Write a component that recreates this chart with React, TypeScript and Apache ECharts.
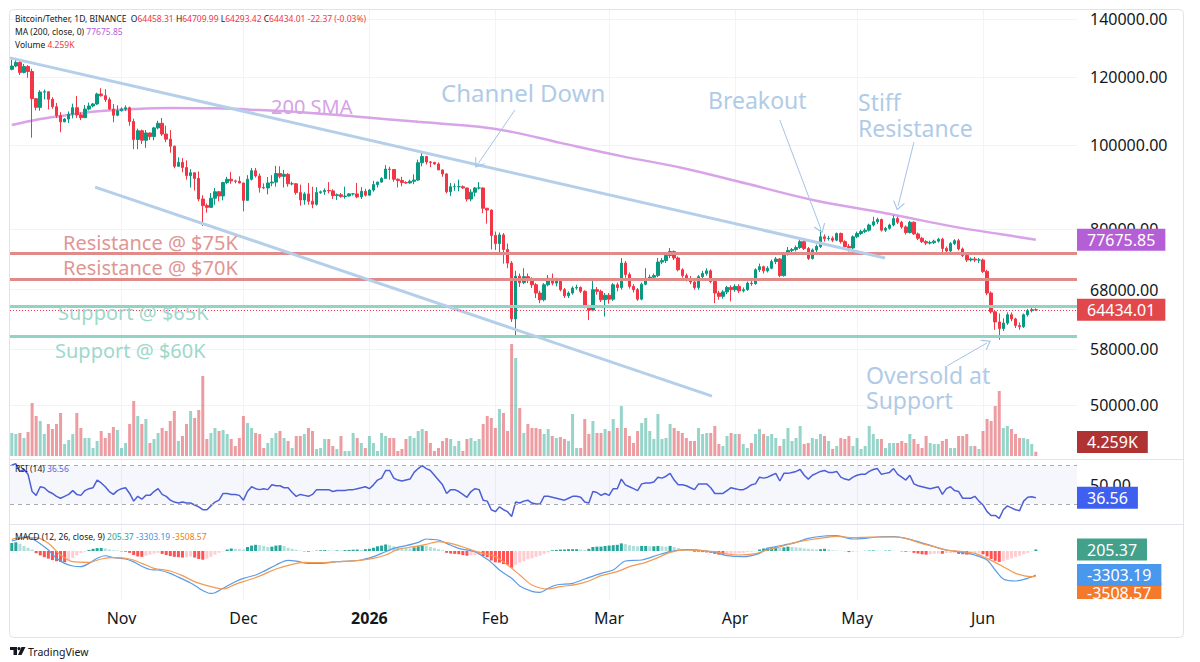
import React, { useEffect, useRef } from "react";
import * as echarts from "echarts";

const DAY = 86400000;
const START = Date.UTC(2025, 9, 5); // first candle: 5 Oct 2025
const NOV1 = Date.UTC(2025, 10, 1);
const X_MIN = NOV1 - 27.44 * DAY;
const X_MAX = X_MIN + 262.57 * DAY;

// Daily candles, thousands of USDT: [open, high, low, close]
const ohlc: number[][] = [
  [122.4,125.7,122.1,123.5],[123.5,126.2,123.1,124.7],[124.7,125.1,120.6,121.4],[121.4,124.2,121.1,123.3],[123.3,123.8,119.7,121.7],
  [121.7,122.6,102.0,113.2],[113.2,113.4,109.7,110.6],[110.6,115.8,109.6,115.2],[115.2,116.0,113.0,115.3],[115.3,115.4,110.0,113.0],
  [113.0,113.6,110.2,110.8],[110.8,111.9,107.5,108.2],[108.2,109.2,103.5,106.4],[106.4,107.5,106.3,107.2],[107.2,109.4,106.1,108.6],
  [108.6,111.7,107.4,110.5],[110.5,114.0,107.5,108.4],[108.4,109.1,106.9,107.6],[107.6,111.3,107.5,110.1],[110.1,112.0,109.7,111.0],
  [111.0,111.9,110.6,111.6],[111.6,115.0,111.3,114.6],[114.6,116.4,113.8,114.1],[114.1,116.1,112.2,112.9],[112.9,113.6,109.9,110.1],
  [110.1,111.6,106.3,108.3],[108.3,111.2,108.0,109.6],
  // Nov
  [109.6,110.6,109.4,110.1],[110.1,111.2,109.5,110.5],[110.5,110.8,105.3,106.5],[106.5,107.3,98.9,101.5],[101.5,104.5,98.9,103.9],
  [103.9,104.2,100.3,101.3],[101.3,104.1,99.3,103.3],[103.3,103.4,101.4,102.3],[102.3,105.0,101.3,104.7],[104.7,106.7,104.3,106.0],
  [106.0,107.5,102.5,103.0],[103.0,105.3,100.8,101.6],[101.6,104.1,98.0,99.7],[99.7,99.9,94.0,94.5],[94.5,96.8,94.5,95.5],
  [95.5,96.6,93.0,94.2],[94.2,96.0,91.2,92.2],[92.2,93.8,89.3,92.9],[92.9,92.9,88.6,91.5],[91.5,93.2,86.1,86.6],
  [86.6,87.5,80.6,85.1],[85.1,85.6,83.5,84.7],[84.7,88.0,84.6,86.8],[86.8,89.2,85.3,88.3],[88.3,88.5,86.1,87.3],
  [87.3,90.7,86.3,90.5],[90.5,91.9,90.1,91.3],[91.3,93.1,90.2,90.9],[90.9,91.2,90.3,90.8],[90.8,92.0,90.3,90.4],
  // Dec
  [90.4,90.4,83.8,86.3],[86.3,92.3,86.2,91.3],[91.3,94.1,91.0,93.4],[93.4,94.1,91.7,92.1],[92.1,92.7,88.1,89.3],
  [89.3,90.3,88.9,89.2],[89.2,91.8,87.7,90.4],[90.4,92.3,89.6,90.6],[90.6,94.6,89.5,92.7],[92.7,94.5,91.5,92.0],
  [92.0,93.6,89.3,92.5],[92.5,92.8,89.5,90.2],[90.2,90.7,89.8,90.2],[90.2,90.4,87.6,88.1],[88.1,90.0,85.1,86.4],
  [86.4,88.2,85.3,87.8],[87.8,90.4,85.3,86.1],[86.1,89.5,84.5,85.4],[85.4,89.4,85.1,88.1],[88.1,88.6,87.8,88.3],
  [88.3,89.1,87.6,88.6],[88.6,90.6,87.9,88.5],[88.5,88.9,86.6,87.4],[87.4,87.9,86.4,87.6],[87.6,88.0,86.9,87.2],
  [87.2,89.5,86.7,87.3],[87.3,88.0,87.2,87.8],[87.8,88.0,87.4,87.8],[87.8,90.4,86.8,87.1],[87.1,89.4,86.6,88.4],
  [88.4,89.0,87.2,87.5],
  // Jan
  [87.5,88.9,87.4,88.7],[88.7,90.9,88.3,90.0],[90.0,90.7,89.3,90.6],[90.6,91.8,90.5,91.5],[91.5,94.8,91.4,93.8],
  [93.8,94.4,91.2,93.7],[93.7,93.7,90.7,91.3],[91.3,91.5,89.3,91.0],[91.0,91.9,89.6,90.5],[90.5,90.8,90.2,90.4],
  [90.4,91.2,90.2,90.8],[90.8,92.5,90.1,91.1],[91.1,96.2,90.9,95.4],[95.4,97.9,94.5,97.0],[97.0,97.2,95.0,95.6],
  [95.6,95.8,94.3,95.5],[95.5,95.6,94.9,95.1],[95.1,95.5,93.6,93.6],[93.6,93.7,91.9,92.6],[92.6,92.8,87.9,88.3],
  [88.3,90.4,87.3,89.5],[89.5,90.3,88.5,89.5],[89.5,91.2,88.4,89.5],[89.5,89.8,89.0,89.2],[89.2,89.2,86.0,86.6],
  [86.6,88.9,86.1,88.2],[88.2,89.4,87.2,89.2],[89.2,90.6,88.8,89.2],[89.2,89.3,83.4,84.5],[84.5,84.6,81.1,84.1],
  [84.1,84.2,75.7,78.6],
  // Feb
  [78.6,79.4,75.6,76.9],[76.9,79.2,74.6,78.7],[78.7,79.1,72.9,75.7],[75.7,76.9,72.0,73.0],[73.0,73.4,62.4,62.9],
  [62.9,71.5,60.0,70.5],[70.5,71.0,68.5,69.3],[69.3,72.0,69.0,70.4],[70.4,71.0,69.2,69.9],[69.9,70.3,68.3,68.9],
  [68.9,69.2,66.5,67.4],[67.4,67.8,65.6,66.2],[66.2,69.2,65.9,68.9],[68.9,70.7,68.6,70.1],[70.1,71.0,68.8,69.2],
  [69.2,70.2,68.6,69.6],[69.6,69.9,67.7,68.0],[68.0,68.3,66.5,66.9],[66.9,67.7,66.5,67.4],[67.4,68.6,67.1,68.3],
  [68.3,68.9,68.0,68.4],[68.4,68.6,67.4,67.7],[67.7,67.9,64.7,65.0],[65.0,65.3,62.7,64.4],[64.4,70.1,64.2,68.0],
  [68.0,68.5,67.1,67.7],[67.7,68.0,65.8,66.2],[66.2,67.4,63.3,67.0],
  // Mar
  [67.0,67.4,65.5,66.3],[66.3,69.2,66.0,68.9],[68.9,69.3,67.7,68.4],[68.4,74.0,68.0,73.0],[73.0,73.4,70.2,70.8],
  [70.8,71.2,68.2,68.6],[68.6,69.0,67.5,68.0],[68.0,68.3,66.0,66.3],[66.3,69.3,66.1,69.0],[69.0,72.0,68.8,70.1],
  [70.1,70.8,69.6,70.3],[70.3,71.0,69.9,70.6],[70.6,74.0,70.3,73.2],[73.2,74.0,72.8,73.5],[73.5,75.0,73.0,74.5],
  [74.5,76.0,74.0,75.3],[75.3,75.5,73.6,74.0],[74.0,74.3,71.4,71.7],[71.7,72.0,70.2,70.6],[70.6,71.0,69.5,70.0],
  [70.0,70.5,69.0,69.4],[69.4,69.8,68.0,68.4],[68.4,70.7,68.0,70.4],[70.4,71.5,70.0,71.0],[71.0,72.0,70.6,71.5],
  [71.5,71.8,69.2,69.5],[69.5,69.8,65.6,67.4],[67.4,67.8,66.2,66.8],[66.8,67.9,66.4,67.6],[67.6,68.7,67.2,68.4],
  [68.4,68.8,65.9,68.0],
  // Apr
  [68.0,69.0,67.6,68.6],[68.6,69.0,67.4,67.8],[67.8,68.4,67.5,68.0],[68.0,69.5,67.8,69.2],[69.2,69.6,68.7,69.1],
  [69.1,72.0,68.9,71.7],[71.7,72.9,71.3,72.3],[72.3,72.5,71.0,71.5],[71.5,72.4,71.2,72.0],[72.0,73.7,71.8,73.3],
  [73.3,74.2,72.8,73.8],[73.8,74.0,70.3,70.6],[70.6,75.1,70.4,74.8],[74.8,76.2,74.5,75.5],[75.5,76.0,75.0,75.7],
  [75.7,76.5,75.3,76.1],[76.1,78.2,75.8,77.3],[77.3,77.6,75.6,75.9],[75.9,76.2,73.6,73.9],[73.9,75.9,73.7,75.6],
  [75.6,76.7,75.2,76.3],[76.3,79.8,76.0,78.3],[78.3,78.8,77.3,77.9],[77.9,78.5,77.5,78.0],[78.0,78.4,77.2,77.6],
  [77.6,79.2,77.4,79.0],[79.0,79.2,76.9,77.3],[77.3,77.6,75.7,76.3],[76.3,76.8,75.3,76.0],[76.0,78.6,75.8,78.3],
  // May
  [78.3,79.4,78.0,79.0],[79.0,79.8,78.7,79.4],[79.4,80.1,79.1,79.7],[79.7,81.1,79.4,80.8],[80.8,82.6,80.5,81.5],
  [81.5,82.4,81.0,82.0],[82.0,82.2,79.4,79.7],[79.7,80.4,79.3,80.1],[80.1,81.1,79.8,80.8],[80.8,82.9,80.5,82.2],
  [82.2,82.6,81.0,81.4],[81.4,81.7,80.0,80.4],[80.4,80.7,78.8,79.2],[79.2,81.7,79.0,81.4],[81.4,81.6,78.7,78.9],
  [78.9,79.2,77.6,78.0],[78.0,78.3,77.0,77.3],[77.3,77.6,76.6,77.0],[77.0,77.5,76.7,77.1],[77.1,77.7,76.8,77.4],
  [77.4,78.1,77.1,77.8],[77.8,78.1,74.6,75.9],[75.9,76.3,75.0,75.4],[75.4,77.2,75.2,76.9],[76.9,77.8,76.6,77.5],
  [77.5,77.9,75.5,75.8],[75.8,76.1,74.2,74.5],[74.5,74.8,73.2,73.6],[73.6,74.1,73.3,73.8],[73.8,74.2,73.2,73.6],
  [73.6,74.0,73.0,73.6],
  // Jun
  [73.6,73.9,71.1,71.4],[71.4,71.7,67.0,67.4],[67.4,67.7,63.8,64.1],[64.1,64.4,61.1,62.4],[62.4,63.8,59.5,61.3],
  [61.3,63.0,60.9,62.2],[62.2,64.0,61.9,63.6],[63.6,64.0,62.5,62.9],[62.9,63.1,61.4,61.8],[61.8,62.3,61.1,61.6],
  [61.6,63.8,61.4,63.6],[63.6,64.6,63.3,64.3],[64.3,64.9,64.0,64.45638],[64.45831,64.70999,64.29342,64.43401],
];

// Daily volume, thousands of BTC
const volumeK: number[] = [
  23,22,23,18,24,53,40,35,22,32, 27,32,43,12,16,22,43,28,18,18, 8,15,25,18,23,29,26,8,13,32,
  55,40,32,37,13,17,23,28,25,35, 45,15,20,32,45,38,46,80,17,23, 28,25,26,22,17,10,18,40,33,28,
  23,22,8,13,18,23,25,18,15,8, 20,20,22,28,25,7,8,17,17,10, 7,20,5,5,23,18,13,8,20,13,
  5,23,20,18,18,5,7,17,20,18, 25,27,25,13,5,8,15,18,17,10, 15,5,17,18,15,17,32,40,38,28,
  47,43,25,112,98,48,23,32,28,28, 27,22,27,20,18,19,17,15,42,8, 8,37,22,35,23,23,27,25,37,28,
  50,28,20,13,25,33,38,25,17,42, 17,18,32,28,25,23,18,15,15,28, 22,23,23,30,12,10,20,23,22,22,
  12,8,13,22,27,22,20,22,18,10, 17,28,15,18,30,12,13,18,17,22, 20,15,7,10,18,17,20,10,18,7,
  10,30,22,17,17,8,13,13,13,15, 13,22,17,12,8,20,13,12,12,15, 17,8,8,20,20,22,10,10,7,25,
  37,35,50,65,28,30,27,22,18,18, 17,12,4.259,
];

// 200-day SMA: [candle index, thousands USDT]
const ma200: number[][] = [
  [0,105.5],[7,107.2],[14,108.4],[22,109.5],[30,110.1],[39,110.4],[50,110.3],[61,109.8],[72,109.1],[86,107.8],
  [100,106.4],[115,105.0],[123,103.6],[135,100.6],[150,97.1],[165,94.1],[181,90.2],[198,86.2],[215,83.4],
  [232,80.4],[243,78.9],[252,77.67585],
];

// RSI(14): [candle index, value]
const rsi14: number[][] = [
  [0,70.7],[1,72],[2,64],[3,66],[4,61],[5,43],[6,39],[7,48],[8,47],[9,43],[10,41],[11,38],[12,36],[13,38],[14,40],
  [15,44],[16,40],[17,39],[18,44],[19,46],[20,47],[21,55],[22,52],[23,48],[24,43],[25,40],[26,44],[27,46],[28,47],
  [29,41],[30,33],[31,38],[32,35],[33,39],[34,39],[35,43],[36,46],[37,40],[38,38],[39,34],[40,32],[41,31],[42,32],
  [43,31],[44,31],[45,29],[46,27],[47,24],[48,24],[49,28],[50,32],[51,34],[52,41],[53,41],[54,40],[55,40],[56,39],
  [57,34],[58,43],[59,48],[60,46],[61,45],[62,46],[63,45],[64,50],[65,49],[66,49],[67,47],[68,47],[69,42],[70,38],
  [71,40],[72,39],[73,38],[74,40],[75,45],[76,45],[77,45],[78,45],[79,43],[80,44],[81,44],[82,44],[83,45],[84,45],
  [85,46],[86,47],[87,48],[88,46],[89,50],[90,55],[91,57],[92,65],[93,65],[94,57],[95,55],[96,54],[97,55],[98,56],
  [99,63],[100,67],[101,70],[102,67],[103,65],[104,60],[105,55],[106,50],[107,41],[108,45],[109,45],[110,43],
  [111,40],[112,37],[113,43],[114,46],[115,45],[116,34],[117,33],[118,24],[119,22],[120,27],[121,24],[122,22],
  [123,17],[124,32],[125,31],[126,33],[127,34],[128,31],[129,30],[130,30],[131,38],[132,38],[133,37],[134,36],
  [135,35],[136,34],[137,36],[138,38],[139,38],[140,37],[141,32],[142,31],[143,43],[144,42],[145,39],[146,41],
  [147,39],[148,46],[149,46],[150,56],[151,50],[152,48],[153,46],[154,44],[155,51],[156,52],[157,52],[158,53],
  [159,58],[160,57],[161,59],[162,62],[163,55],[164,50],[165,50],[166,49],[167,47],[168,45],[169,51],[170,51],
  [171,51],[172,47],[173,41],[174,41],[175,41],[176,44],[177,47],[178,46],[179,45],[180,45],[181,47],[182,50],
  [183,51],[184,58],[185,57],[186,58],[187,60],[188,62],[189,54],[190,62],[191,62],[192,63],[193,64],[194,66],
  [195,60],[196,56],[197,60],[198,62],[199,64],[200,65],[201,63],[202,63],[203,64],[204,58],[205,56],[206,55],
  [207,58],[208,60],[209,61],[210,61],[211,64],[212,66],[213,67],[214,61],[215,62],[216,63],[217,67],[218,61],
  [219,58],[220,55],[221,60],[222,51],[223,49],[224,48],[225,47],[226,46],[227,47],[228,48],[229,40],[230,46],
  [231,48],[232,44],[233,43],[234,36],[235,36],[236,36],[237,38],[238,33],[239,29],[240,22],[241,18],[242,18],
  [243,15],[244,24],[245,28],[246,26],[247,24],[248,23],[249,33],[250,37],[251,37.5],[252,36.56],
];

// MACD(12,26,9) line and signal: [candle index, value]
const macdLine: number[][] = [
  [0,1400],[1,1514],[3,1900],[4,1972],[5,1700],[6,1376],[8,600],[9,138],[11,-1000],[13,-1700],[15,-2064],[17,-2157],
  [19,-1700],[21,-1000],[23,-650],[25,-900],[28,-1100],[30,-1500],[32,-2100],[34,-2550],[36,-2615],[39,-3073],
  [41,-3600],[44,-4400],[46,-5100],[48,-5700],[49,-5826],[50,-5750],[52,-5137],[55,-4220],[57,-3761],[60,-3303],
  [62,-2800],[65,-1926],[68,-1284],[70,-1400],[73,-1697],[76,-1697],[80,-1468],[83,-1376],[86,-1239],[89,-780],
  [91,-321],[94,367],[97,734],[100,1193],[102,1651],[103,1600],[105,1514],[107,1055],[110,367],[114,-92],[116,-780],
  [118,-1560],[120,-2615],[123,-3761],[125,-4800],[128,-5550],[130,-5688],[132,-5137],[134,-4679],[138,-4450],
  [141,-3853],[145,-3073],[148,-2615],[151,-1376],[155,-1239],[159,-550],[162,-92],[166,183],[169,138],[173,-183],
  [176,-642],[180,-780],[184,-321],[186,367],[190,826],[193,1193],[196,1743],[200,2064],[203,2110],[207,1651],
  [210,1743],[213,1927],[217,1972],[220,1743],[223,1284],[227,597],[230,138],[234,-183],[237,-550],[240,-1239],
  [242,-2615],[244,-3853],[247,-4128],[250,-3761],[252,-3303.19],
];
const signalLine: number[][] = [
  [0,1600],[1,1743],[6,1835],[9,1055],[12,-550],[15,-1468],[19,-1560],[22,-1101],[25,-917],[29,-1101],[32,-1697],
  [35,-2385],[39,-2752],[42,-3394],[45,-4220],[49,-4908],[52,-5229],[55,-4587],[59,-3853],[62,-3211],[65,-2477],
  [69,-1835],[72,-1560],[76,-1605],[80,-1468],[85,-1330],[89,-1009],[92,-550],[95,229],[99,597],[102,918],
  [105,1284],[109,918],[112,367],[115,-183],[119,-780],[122,-1926],[125,-3300],[128,-4679],[132,-5229],[135,-4908],
  [139,-4587],[142,-4128],[145,-3394],[149,-2844],[152,-2157],[156,-1560],[159,-917],[162,-183],[166,138],[169,46],
  [173,-92],[176,-413],[179,-550],[183,-367],[186,138],[190,734],[193,1193],[196,1514],[200,1835],[203,2018],
  [207,1835],[210,1881],[213,1927],[217,1927],[220,1743],[223,1193],[227,597],[230,138],[234,-92],[237,-321],
  [240,-1009],[244,-2157],[247,-3073],[251,-3532],[252,-3508.57],
];
// MACD histogram, one value per candle
const macdHist: number[] = [
  1100,1200,1000,700,450,200,-300,-600,-850,-1050,
  -1250,-1400,-1500,-1550,-1300,-950,-600,-300,-100,150,
  300,400,420,350,200,100,80,-50,-100,-250,
  -550,-750,-800,-650,-500,-350,-250,-400,-550,-700,
  -800,-850,-900,-850,-750,-900,-1100,-1200,-1050,-800,
  -500,-250,-50,200,350,300,250,200,550,750,
  850,800,700,550,600,750,800,700,450,300,
  150,50,-50,-100,-50,50,100,120,100,60,
  80,60,120,150,180,200,150,250,300,450,
  650,750,900,800,650,550,450,400,350,500,
  650,750,700,550,400,250,100,-250,-350,-400,
  -450,-550,-650,-600,-550,-500,-700,-850,-1300,-1550,
  -1600,-1800,-1900,-2300,-1900,-1600,-1400,-1150,-1000,-800,
  -650,-400,-200,100,150,200,200,250,250,250,
  200,150,300,550,600,600,700,750,800,850,
  1050,950,800,700,650,700,700,650,650,700,
  650,600,700,550,400,250,150,50,-100,-100,
  -150,-200,-250,-400,-500,-500,-450,-400,-350,-300,
  -250,-150,-100,-50,200,350,450,500,550,450,
  500,600,550,500,450,350,300,250,200,250,
  300,200,100,60,30,-20,-150,-120,-50,-20,
  30,60,80,60,20,50,70,40,0,-50,
  -100,-80,-250,-350,-450,-500,-450,-400,-350,-380,
  -300,-280,-250,-400,-450,-500,-400,-330,-300,-450,
  -750,-1100,-1350,-1500,-1400,-1200,-1000,-800,-650,-450,
  -250,-50,205.37,
];

const priceTicks = [50000, 58000, 68000, 80000, 100000, 120000, 140000];
const monthTicks = [
  Date.UTC(2025, 10, 1), Date.UTC(2025, 11, 1), Date.UTC(2026, 0, 1), Date.UTC(2026, 1, 1),
  Date.UTC(2026, 2, 1), Date.UTC(2026, 3, 1), Date.UTC(2026, 4, 1), Date.UTC(2026, 5, 1),
];
const MONTHS = ["Jan","Feb","Mar","Apr","May","Jun","Jul","Aug","Sep","Oct","Nov","Dec"];
const resistanceLevels = [75000, 70000];
const supportLevels = [65000, 60000];
// Channel: [days after 1 Nov 2025, price]
const channelUpper = [[-27.44, 126200], [187.9, 74000]];
const channelLower = [[-6.5, 89400], [145.3, 51200]];
// Arrows: tail then head, [days after 1 Nov 2025, price]
const arrows = [
  [[96.8, 109800], [87.7, 95100]],
  [[162.0, 106900], [172.1, 79960]],
  [[195.0, 100800], [191.1, 85000]],
  [[203.2, 55500], [213.0, 59000]],
];

const FONT = "'Noto Sans', 'DejaVu Sans', sans-serif";
const UP = "#089981";
const DOWN = "#f23645";
const CHEVRON = "path://M0,15 L10,0 L20,15 L18.5,16 L10,3.5 L1.5,16 Z";

const t = (i: number) => START + i * DAY;
const td = (d: number) => NOV1 + d * DAY;

export default function App() {
  const ref = useRef<HTMLDivElement>(null);
  useEffect(() => {
    if (!ref.current) return;
    const chart = echarts.init(ref.current, null, { renderer: "svg", width: 1200, height: 662 });

    const last = ohlc[ohlc.length - 1];
    const prev = ohlc[ohlc.length - 2];
    const lastClose = last[3] * 1000;
    const chg = (last[3] - prev[3]) * 1000;
    const chgPct = (chg / (prev[3] * 1000)) * 100;
    const lastMA = ma200[ma200.length - 1][1] * 1000;
    const lastVol = volumeK[volumeK.length - 1];
    const lastRsi = rsi14[rsi14.length - 1][1];
    const lastMacd = macdLine[macdLine.length - 1][1];
    const lastSignal = signalLine[signalLine.length - 1][1];
    const lastHist = macdHist[macdHist.length - 1];

    const candleData = ohlc.map((r, i) => [t(i), r[0] * 1000, r[3] * 1000, r[2] * 1000, r[1] * 1000]);
    const volData = volumeK.map((v, i) => ({
      value: [t(i), v],
      itemStyle: { color: ohlc[i][3] >= ohlc[i][0] ? "rgba(8,153,129,0.42)" : "rgba(220,60,70,0.5)" },
    }));
    const histData = macdHist.map((v, i) => {
      const p = i > 0 ? macdHist[i - 1] : v;
      const c = v >= 0 ? (v >= p ? "#26a69a" : "#b2dfdb") : (v <= p ? "#ff5252" : "#ffcdd2");
      return { value: [t(i), v], itemStyle: { color: c } };
    });

    const tag = (bg: string, text: string) => ({
      show: true,
      position: "end",
      distance: 0,
      formatter: text,
      backgroundColor: bg,
      color: "#ffffff",
      fontSize: 16,
      fontFamily: FONT,
      lineHeight: 16,
      padding: [3, 10, 3, 10],
    });
    const hidden = { color: "rgba(0,0,0,0)", width: 1, type: "solid" };

    const xAxis = (gridIndex: number, labels: boolean) => ({
      type: "value",
      gridIndex,
      min: X_MIN,
      max: X_MAX,
      axisLine: { show: false },
      axisTick: { show: false, customValues: monthTicks },
      splitLine: { show: true, lineStyle: { color: "#f0f3fa", width: 1 } },
      axisPointer: { show: false },
      axisLabel: labels
        ? {
            customValues: monthTicks,
            color: "#131722",
            fontSize: 16,
            fontFamily: FONT,
            margin: 10,
            formatter: (v: number) => {
              const d = new Date(v);
              return d.getUTCMonth() === 0 ? "{y|" + d.getUTCFullYear() + "}" : MONTHS[d.getUTCMonth()];
            },
            rich: { y: { fontWeight: "bold", fontSize: 16, fontFamily: FONT, color: "#131722" } },
          }
        : { show: false },
    });

    const txt = (text: string, x: number, y: number, fill: string, size: number) => ({
      type: "text",
      z: 50,
      silent: true,
      style: { text, x, y, fill, fontSize: size, lineHeight: size, fontFamily: FONT, verticalAlign: "middle", align: "left" },
    });

    const annBlue = "#b0cbe7";
    const graphic: any[] = [
      { type: "rect", z: 0, silent: true, shape: { x: 9.5, y: 9.5, width: 1174, height: 628, r: 4 }, style: { fill: "none", stroke: "#e0e3eb", lineWidth: 1 } },
      { type: "line", z: 1, silent: true, shape: { x1: 9.5, y1: 459.5, x2: 1183.5, y2: 459.5 }, style: { stroke: "#e0e3eb", lineWidth: 1 } },
      { type: "line", z: 1, silent: true, shape: { x1: 9.5, y1: 524.5, x2: 1183.5, y2: 524.5 }, style: { stroke: "#e0e3eb", lineWidth: 1 } },
      { type: "rect", z: 100, silent: true, shape: { x: 1076, y: 599, width: 107, height: 13 }, style: { fill: "#ffffff" } },
      txt("Channel Down", 441, 92, annBlue, 24),
      txt("Breakout", 708, 100, annBlue, 23),
      txt("Stiff", 858, 102, annBlue, 23),
      txt("Resistance", 858, 128, annBlue, 23),
      txt("Oversold at", 866, 375, annBlue, 23),
      txt("Support", 866, 400, annBlue, 23),
      txt("200 SMA", 271, 106, "#d6a2e6", 20),
      txt("Resistance @ $75K", 63, 242, "#df9694", 20),
      txt("Resistance @ $70K", 63, 267, "#df9694", 20),
      txt("Support @ $65K", 58, 312, "#9fd8cb", 20),
      txt("Support @ $60K", 55, 350, "#9fd8cb", 20),
      {
        type: "text", z: 60, silent: true,
        style: {
          x: 15, y: 18, verticalAlign: "middle", fontSize: 8.5, fontFamily: FONT, fill: "#131722",
          text:
            "{n|Bitcoin/Tether, 1D, BINANCE}  {l|O}{v|" + (last[0] * 1000).toFixed(2) + "} {l|H}{v|" +
            (last[1] * 1000).toFixed(2) + "} {l|L}{v|" + (last[2] * 1000).toFixed(2) + "} {l|C}{v|" +
            lastClose.toFixed(2) + "} {v|" + chg.toFixed(2) + " (" + chgPct.toFixed(2) + "%)}",
          rich: {
            n: { fontSize: 8.5, fontFamily: FONT, fill: "#131722" },
            l: { fontSize: 8.5, fontFamily: FONT, fill: "#131722" },
            v: { fontSize: 8.5, fontFamily: FONT, fill: DOWN },
          },
        },
      },
      {
        type: "text", z: 60, silent: true,
        style: {
          x: 15, y: 31, verticalAlign: "middle", fontSize: 8.5, fontFamily: FONT,
          text: "{n|MA (200, close, 0)} {v|" + lastMA.toFixed(2) + "}",
          rich: { n: { fontSize: 8.5, fontFamily: FONT, fill: "#131722" }, v: { fontSize: 8.5, fontFamily: FONT, fill: "#b35fd6" } },
        },
      },
      {
        type: "text", z: 60, silent: true,
        style: {
          x: 15, y: 44, verticalAlign: "middle", fontSize: 8.5, fontFamily: FONT,
          text: "{n|Volume} {v|" + lastVol.toFixed(3) + "K}",
          rich: { n: { fontSize: 8.5, fontFamily: FONT, fill: "#131722" }, v: { fontSize: 8.5, fontFamily: FONT, fill: DOWN } },
        },
      },
      {
        type: "text", z: 60, silent: true,
        style: {
          x: 15, y: 468, verticalAlign: "middle", fontSize: 8.5, fontFamily: FONT,
          text: "{n|RSI (14)} {v|" + lastRsi.toFixed(2) + "}",
          rich: { n: { fontSize: 8.5, fontFamily: FONT, fill: "#131722" }, v: { fontSize: 8.5, fontFamily: FONT, fill: "#5566d8" } },
        },
      },
      {
        type: "text", z: 60, silent: true,
        style: {
          x: 15, y: 536, verticalAlign: "middle", fontSize: 8.5, fontFamily: FONT,
          text:
            "{n|MACD (12, 26, close, 9)} {g|" + lastHist.toFixed(2) + "} {b|" + lastMacd.toFixed(2) + "} {o|" +
            lastSignal.toFixed(2) + "}",
          rich: {
            n: { fontSize: 8.5, fontFamily: FONT, fill: "#131722" },
            g: { fontSize: 8.5, fontFamily: FONT, fill: "#26a69a" },
            b: { fontSize: 8.5, fontFamily: FONT, fill: "#4a90e2" },
            o: { fontSize: 8.5, fontFamily: FONT, fill: "#f57c00" },
          },
        },
      },
      { type: "rect", z: 60, silent: true, shape: { x: 10, y: 647, width: 7, height: 3 }, style: { fill: "#131722" } },
      { type: "rect", z: 60, silent: true, shape: { x: 13.5, y: 647, width: 3.5, height: 8 }, style: { fill: "#131722" } },
      { type: "circle", z: 60, silent: true, shape: { cx: 19, cy: 648.6, r: 1.6 }, style: { fill: "#131722" } },
      { type: "polygon", z: 60, silent: true, shape: { points: [[21.5, 647], [25.5, 647], [21.5, 655], [18, 655]] }, style: { fill: "#131722" } },
      txt("TradingView", 28, 651.5, "#131722", 10.5),
    ];

    const channelStyle = { color: "#b5cfea", width: 3, type: "solid" };
    const arrowStyle = { color: "#a6c3e5", width: 1, type: "solid" };
    const candleMarks: any[] = [
      ...resistanceLevels.map((v) => ({ yAxis: v, lineStyle: { color: "#e08a8a", width: 3, type: "solid" } })),
      ...supportLevels.map((v) => ({ yAxis: v, lineStyle: { color: "#92d3c4", width: 3, type: "solid" } })),
      [
        { coord: [td(channelUpper[0][0]), channelUpper[0][1]], lineStyle: channelStyle },
        { coord: [td(channelUpper[1][0]), channelUpper[1][1]], lineStyle: channelStyle },
      ],
      [
        { coord: [td(channelLower[0][0]), channelLower[0][1]], lineStyle: channelStyle },
        { coord: [td(channelLower[1][0]), channelLower[1][1]], lineStyle: channelStyle },
      ],
      ...arrows.map((a) => [
        { coord: [td(a[0][0]), a[0][1]], symbol: "none", lineStyle: arrowStyle },
        { coord: [td(a[1][0]), a[1][1]], symbol: CHEVRON, symbolSize: [12, 9], lineStyle: arrowStyle },
      ]),
      { yAxis: lastClose, lineStyle: { color: DOWN, width: 1, type: [1, 2] }, label: tag("#e2474c", lastClose.toFixed(2)) },
    ];

    const option: any = {
      animation: false,
      backgroundColor: "#ffffff",
      textStyle: { fontFamily: FONT },
      graphic,
      grid: [
        { left: 10, right: 123, top: 10, height: 448 },
        { left: 10, right: 123, top: 300, height: 156 },
        { left: 10, right: 123, top: 460, height: 64 },
        { left: 10, right: 123, top: 525, height: 75 },
      ],
      xAxis: [xAxis(0, false), xAxis(1, false), xAxis(2, false), xAxis(3, true)],
      yAxis: [
        {
          type: "log", gridIndex: 0, position: "right", min: 43400, max: 143400,
          axisLine: { show: false },
          axisTick: { show: false, customValues: priceTicks },
          axisLabel: { customValues: priceTicks, formatter: (v: number) => v.toFixed(2), color: "#131722", fontSize: 16, fontFamily: FONT, margin: 13 },
          splitLine: { show: true, lineStyle: { color: "#f0f3fa" } },
          axisPointer: { show: false },
        },
        { type: "value", gridIndex: 1, min: 0, max: 156, show: false },
        {
          type: "value", gridIndex: 2, position: "right", min: 9.1, max: 75.95,
          axisLine: { show: false },
          axisTick: { show: false, customValues: [50] },
          axisLabel: { customValues: [50], formatter: (v: number) => v.toFixed(2), color: "#131722", fontSize: 16, fontFamily: FONT, margin: 13 },
          splitLine: { show: false },
        },
        { type: "value", gridIndex: 3, min: -6742, max: 3578, show: false, splitLine: { show: false } },
      ],
      series: [
        {
          type: "bar", name: "Volume", xAxisIndex: 1, yAxisIndex: 1, barWidth: 3, z: 1, data: volData,
          markLine: {
            silent: true, symbol: ["none", "none"], label: { show: false }, z: 8,
            data: [{ yAxis: Math.max(lastVol, 14), lineStyle: hidden, label: tag("#b03333", lastVol.toFixed(3) + "K") }],
          },
        },
        {
          type: "candlestick", name: "BTCUSDT", xAxisIndex: 0, yAxisIndex: 0, barWidth: 3, z: 3, data: candleData,
          itemStyle: { color: UP, color0: DOWN, borderColor: UP, borderColor0: DOWN, borderWidth: 1 },
          markLine: { silent: true, symbol: ["none", "none"], label: { show: false }, z: 4, data: candleMarks },
        },
        {
          type: "line", name: "MA 200", xAxisIndex: 0, yAxisIndex: 0, z: 2, showSymbol: false, smooth: 0.4,
          lineStyle: { color: "#d9a3e8", width: 2.5 },
          data: ma200.map(([i, v]) => [t(i), v * 1000]),
          markLine: {
            silent: true, symbol: ["none", "none"], label: { show: false }, z: 8,
            data: [{ yAxis: lastMA, lineStyle: hidden, label: tag("#b55fd6", lastMA.toFixed(2)) }],
          },
        },
        {
          type: "line", name: "RSI", xAxisIndex: 2, yAxisIndex: 2, showSymbol: false,
          lineStyle: { color: "#4d5fd6", width: 1.5 },
          data: rsi14.map(([i, v]) => [t(i), v]),
          markArea: { silent: true, itemStyle: { color: "rgba(60,100,220,0.05)" }, data: [[{ yAxis: 30 }, { yAxis: 70 }]] },
          markLine: {
            silent: true, symbol: ["none", "none"], label: { show: false }, z: 8,
            data: [
              { yAxis: 70, lineStyle: { color: "#a9acb5", width: 1, type: [4, 4] } },
              { yAxis: 30, lineStyle: { color: "#a9acb5", width: 1, type: [4, 4] } },
              { yAxis: lastRsi, lineStyle: hidden, label: tag("#3e5ff0", lastRsi.toFixed(2)) },
            ],
          },
        },
        {
          type: "bar", name: "Histogram", xAxisIndex: 3, yAxisIndex: 3, barWidth: 3, data: histData,
          markLine: {
            silent: true, symbol: ["none", "none"], label: { show: false }, z: 9,
            data: [{ yAxis: lastHist, lineStyle: hidden, label: tag("#42a08b", lastHist.toFixed(2)) }],
          },
        },
        {
          type: "line", name: "MACD", xAxisIndex: 3, yAxisIndex: 3, showSymbol: false, smooth: 0.3,
          lineStyle: { color: "#5b9be8", width: 1.2 },
          data: macdLine.map(([i, v]) => [t(i), v]),
          markLine: {
            silent: true, symbol: ["none", "none"], label: { show: false }, z: 8,
            data: [{ yAxis: lastMacd, lineStyle: hidden, label: tag("#4a97ee", lastMacd.toFixed(2)) }],
          },
        },
        {
          type: "line", name: "Signal", xAxisIndex: 3, yAxisIndex: 3, showSymbol: false, smooth: 0.3,
          lineStyle: { color: "#f39a52", width: 1.2 },
          data: signalLine.map(([i, v]) => [t(i), v]),
          markLine: {
            silent: true, symbol: ["none", "none"], label: { show: false }, z: 7,
            data: [{ yAxis: lastSignal - 2300, lineStyle: hidden, label: tag("#f4792b", lastSignal.toFixed(2)) }],
          },
        },
      ],
    };

    chart.setOption(option);
    return () => chart.dispose();
  }, []);

  return (
    <div
      ref={ref}
      style={{ position: "fixed", left: 0, top: 0, width: 1200, height: 662, background: "#ffffff" }}
    />
  );
}
